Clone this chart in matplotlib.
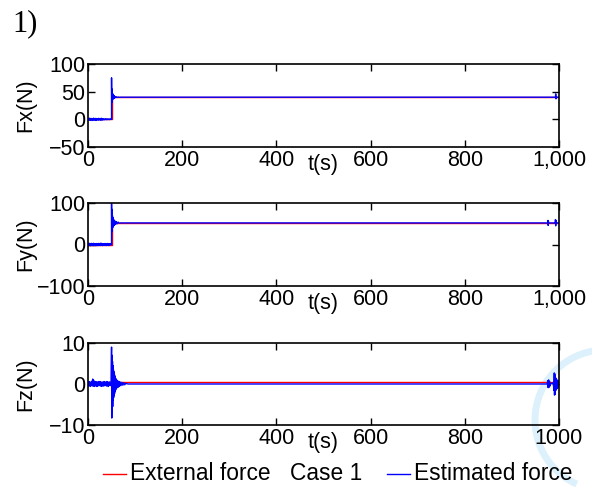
import numpy as np
import matplotlib.pyplot as plt
from matplotlib.lines import Line2D
from matplotlib.patches import Arc

plt.rcParams['font.family'] = ['Liberation Sans', 'DejaVu Sans']

# ---- data ----
t_pre = list(range(50))

# Fx
fx_ext_t = [0, 50, 50, 1000]
fx_ext = [0, 0, 40, 40]
fx_pre = [0.5, -1.5, 1.8, -1.0, 2.0, -1.8, 1.2, -0.8, 1.5, -2.0,
          1.0, -1.2, 2.2, -1.5, 0.8, -1.0, 1.6, -2.0, 1.4, -0.6,
          1.0, -1.4, 1.8, -1.2, 0.6, -0.8, 1.2, -1.6, 2.0, -1.0,
          0.8, -1.2, 1.0, -0.6, 0.4, -0.8, 0.6, -0.4, 0.8, -0.6,
          0.4, -0.5, 0.6, -0.4, 0.3, -0.5, 0.4, -0.3, 0.5, 0.0]
fx_tr_t = [50.0, 50.0, 50.3, 50.6, 50.9, 51.2, 51.5, 51.8, 52.1, 52.4, 52.7,
           53.0, 53.5, 54.0, 54.5, 55.0, 55.5, 56.0, 57.0, 58.0, 59.0,
           60.0, 62.0, 64.0, 66.0, 70.0, 992.5, 993.0, 993.5, 994.0, 1000.0]
fx_tr = [0, 75, 30, 55, 34, 50, 36, 47, 36, 46, 37,
         44, 37, 43, 38, 42.5, 38.5, 42, 39, 41, 39.5,
         40.6, 39.6, 40.3, 39.8, 40, 40, 46, 37, 40, 40]

# Fy
fy_ext_t = [0, 50, 50, 1000]
fy_ext = [0, 0, 52, 52]
fy_pre = [1.5, -2.5, 3.0, -2.0, 2.5, -3.0, 2.0, -1.5, 2.8, -2.2,
          1.8, -2.6, 3.0, -1.8, 2.2, -2.4, 1.6, -3.0, 2.4, -1.6,
          2.0, -2.8, 2.6, -2.0, 1.4, -2.2, 2.8, -2.4, 3.0, -1.8,
          2.2, -2.6, 2.0, -1.4, 1.8, -2.0, 2.4, -1.6, 2.2, -2.4,
          1.6, -2.0, 2.6, -1.8, 1.4, -2.2, 2.0, -1.6, 1.2, 0.0]
fy_tr_t = [50.0, 50.0, 50.3, 50.6, 50.9, 51.2, 51.5, 51.8, 52.1, 52.4, 52.7,
           53.0, 53.5, 54.0, 54.5, 55.0, 55.5, 56.0, 57.0, 58.0, 59.0,
           60.0, 62.0, 64.0, 66.0, 70.0, 976.0, 976.5, 977.0, 977.5, 978.0,
           992.0, 992.5, 993.0, 993.5, 994.0, 1000.0]
fy_tr = [0, 110, 30, 85, 35, 75, 38, 70, 40, 66, 42,
         63, 44, 61, 45, 59, 47, 57, 48, 56, 49,
         55, 50, 54, 51.5, 52, 52, 58, 46, 56, 52,
         52, 60, 45, 58, 52, 52]

# Fz
fz_ext_t = [0, 1000]
fz_ext = [0.45, 0.45]
fz_pre = [0.3, -0.5, 0.6, -0.4, 0.5, -0.6, 0.4, -0.3, 0.7, -0.5,
          1.2, -0.4, 0.9, -0.6, 0.5, -0.5, 0.6, -0.4, 0.5, -0.6,
          0.4, -0.5, 0.6, -0.3, 0.5, -0.4, 0.6, -0.5, 0.4, -0.6,
          0.5, -0.4, 0.3, -0.5, 0.6, -0.4, 0.5, -0.3, 0.4, -0.5,
          0.6, -0.4, 0.5, -0.6, 0.4, -0.3, 0.5, -0.4, 0.3, 0.0]
fz_tr_t = [50.0, 50.5, 51.0, 51.5, 52.0, 52.5, 53.0, 53.5, 54.0, 54.5,
           55.0, 55.5, 56.0, 56.5, 57.0, 57.5, 58.0, 58.5, 59.0, 59.5,
           60.0, 61.0, 62.0, 63.0, 64.0, 65.0, 66.0, 67.0, 68.0, 70.0,
           72.0, 74.0, 76.0, 78.0, 80.0, 85.0, 975.0, 976.0, 977.0, 978.0,
           979.0, 980.0, 981.0, 982.0, 988.0, 989.0, 990.0, 990.5, 991.0, 991.5,
           992.0, 993.0, 994.0, 995.0, 996.0, 997.0, 998.0, 999.0, 1000.0]
fz_tr = [9.0, -8.3, 7.0, -7.0, 5.5, -5.5, 4.5, -4.0, 3.5, -3.3,
         3.0, -2.8, 2.5, -2.3, 2.0, -1.8, 1.6, -1.5, 1.3, -1.2,
         1.1, -1.0, 0.9, -0.8, 0.7, -0.7, 0.6, -0.5, 0.5, -0.4,
         0.4, -0.3, 0.3, -0.2, 0.15, 0.0, 0.0, 0.8, -0.9, 1.0,
         -0.8, 0.6, -0.5, 0.0, 0.3, -1.5, 2.7, -2.7, 2.5, -2.5,
         2.0, -1.6, 1.4, -1.2, 1.0, -1.0, 0.8, -0.6, 0.4]

panels = [
    ("Fx(N)", fx_ext_t, fx_ext, fx_pre, fx_tr_t, fx_tr, (-50, 100), [-50, 0, 50, 100], True),
    ("Fy(N)", fy_ext_t, fy_ext, fy_pre, fy_tr_t, fy_tr, (-100, 100), [-100, 0, 100], True),
    ("Fz(N)", fz_ext_t, fz_ext, fz_pre, fz_tr_t, fz_tr, (-10, 10), [-10, 0, 10], False),
]

W, H = 592, 488
fig = plt.figure(figsize=(W / 100, H / 100), dpi=100)

boxes = [(64, 147), (203, 286), (343, 425)]
left, right = 88, 559

for (lab, et, ev, pre, tt, tv, ylim, yt, comma), (top, bot) in zip(panels, boxes):
    ax = fig.add_axes([left / W, 1 - bot / H, (right - left) / W, (bot - top) / H])
    ax.set_facecolor("none")
    ax.plot(et, ev, color="red", lw=1.0)
    ax.plot(t_pre + tt, pre + tv, color="blue", lw=1.0)
    ax.set_xlim(0, 1000)
    ax.set_ylim(*ylim)
    ax.set_yticks(yt)
    ax.set_xticks([0, 200, 400, 600, 800, 1000])
    if comma:
        ax.set_xticklabels(["0", "200", "400", "600", "800", "1,000"])
    ax.tick_params(direction="in", top=True, right=True, labelsize=15.5,
                   length=5, width=1, pad=2)
    for s in ax.spines.values():
        s.set_linewidth(1.2)
    ax.set_ylabel(lab, fontsize=15.5)
    ax.yaxis.set_label_coords((36 - left) / (right - left), 0.5)
    ax.set_xlabel("t(s)", fontsize=15.5)
    ax.xaxis.set_label_coords(0.5, -0.08)

fig.text(12 / W, 1 - 24 / H, "1)", fontsize=22, family="Liberation Serif",
         va="center", ha="left")

# legend row
ly = 1 - 474 / H
fig.add_artist(Line2D([103 / W, 126 / W], [ly, ly], color="red", lw=1.0))
fig.text(130 / W, ly, "External force", fontsize=16.4, va="center", ha="left")
fig.text(290 / W, ly, "Case 1", fontsize=16.4, va="center", ha="left")
fig.add_artist(Line2D([387 / W, 410 / W], [ly, ly], color="blue", lw=1.0))
fig.text(414 / W, ly, "Estimated force", fontsize=16.4, va="center", ha="left")

# faint watermark arc behind everything at the lower right
fig.add_artist(Arc((605 / W, 1 - 420 / H), 140 / W, 140 / H, theta1=95, theta2=250,
                   transform=fig.transFigure, color="#dcf1fb", lw=5, zorder=-1))

fig.savefig("out.png", dpi=100)
